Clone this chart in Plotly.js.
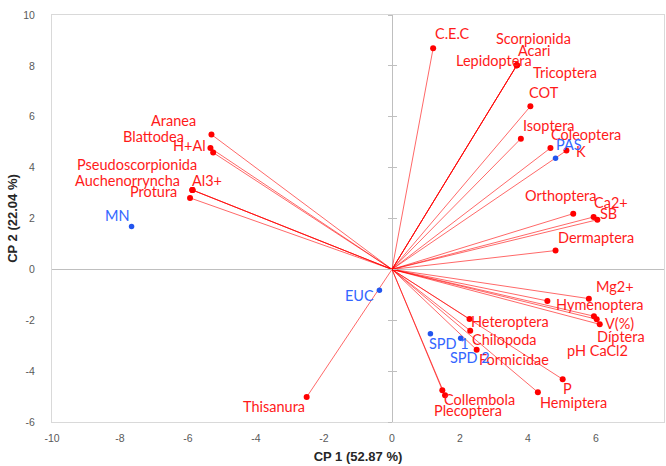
<!DOCTYPE html>
<html>
<head>
<meta charset="utf-8">
<script src="https://cdn.plot.ly/plotly-3.0.1.min.js"></script>
<style>html,body{margin:0;padding:0;background:#fff;}#chart{width:666px;height:466px;}</style>
</head>
<body>
<div id="chart"></div>
<script>
// Variable loadings (red vectors)
var varNames = ['C.E.C','Scorpionida','Acari','Lepidoptera','Tricoptera','COT','Isoptera','Coleoptera','K','Orthoptera','Ca2+','SB','Dermaptera','Mg2+','Hymenoptera','V(%)','Díptera','pH CaCl2','Heteroptera','Chilopoda','Formicidae','P','Hemiptera','Collembola','Plecoptera','Thisanura','Aranea','Blattodea','H+Al','Pseudoscorpionida','Auchenorryncha','Al3+','Protura'];
var varX = [1.21,3.67,3.67,3.67,3.67,4.07,3.79,4.66,5.13,5.33,5.93,6.04,4.81,5.79,4.57,5.94,6.02,6.11,2.28,2.30,2.49,5.02,4.29,1.48,1.56,-2.51,-5.31,-5.34,-5.26,-5.87,-5.87,-5.87,-5.94];
var varY = [8.69,8.02,8.02,8.02,8.02,6.41,5.14,4.77,4.67,2.19,2.06,1.95,0.74,-1.15,-1.24,-1.84,-1.96,-2.16,-1.95,-2.41,-3.16,-4.32,-4.83,-4.75,-4.95,-5.02,5.30,4.77,4.59,3.12,3.12,3.12,2.81];

// Observation scores (blue points)
var obsNames = ['MN','PAS','EUC','SPD 1','SPD 2'];
var obsX = [-7.66,4.81,-0.37,1.13,2.02];
var obsY = [1.69,4.37,-0.82,-2.53,-2.71];

// Axis ticks
var xTicks = [-10,-8,-6,-4,-2,0,2,4,6,8];
var yTicks = [-6,-4,-2,0,2,4,6,8,10];

// Label placement offsets in pixels [dx, dy(down)] — layout only
var varLabelOffsets = [[19,-15],[17,-27],[18,-15],[-23,-5],[48,7],[14,-14],[28,-13],[36,-14],[15,1],[-13,-18],[17,-14],[11,-6],[40,-13],[26,-12],[53,4],[26,7],[24,17],[-2,26],[40,3],[34,9],[37,10],[5,9],[36,10],[37,9],[23,15],[-33,9],[-38,-14],[-57,-12],[-24,-7],[-55,-26],[-65,-10],[15,-10],[-37,-6]];
var obsLabelOffsets = [[-14,-11],[13,-14],[-20,5],[19,10],[9,19]];

var RED = '#FF0000';
var BLUE = '#2255EE';
var labelFont = 'Lato, "Liberation Sans", Arial, sans-serif';

// Build vector segments from origin
var lx = [], ly = [];
for (var i = 0; i < varX.length; i++) {
  lx.push(0, varX[i], null);
  ly.push(0, varY[i], null);
}

var traces = [
  {x: lx, y: ly, mode: 'lines', type: 'scatter', line: {color: 'rgba(255,0,0,0.85)', width: 0.7}, hoverinfo: 'skip', showlegend: false},
  {x: varX, y: varY, mode: 'markers', type: 'scatter', marker: {color: RED, size: 6}, text: varNames, showlegend: false},
  {x: obsX, y: obsY, mode: 'markers', type: 'scatter', marker: {color: BLUE, size: 5.5}, text: obsNames, showlegend: false},
  {x: [null], y: [null], xaxis: 'x', yaxis: 'y2', type: 'scatter', mode: 'markers', showlegend: false, hoverinfo: 'skip'},
  {x: [null], y: [null], xaxis: 'x', yaxis: 'y3', type: 'scatter', mode: 'markers', showlegend: false, hoverinfo: 'skip'}
];

var annotations = [];
for (var j = 0; j < varNames.length; j++) {
  annotations.push({x: varX[j], y: varY[j], xref: 'x', yref: 'y', text: varNames[j], showarrow: false,
    xshift: varLabelOffsets[j][0], yshift: -varLabelOffsets[j][1], font: {family: labelFont, size: 14.5, color: '#FF1A1A'}});
}
for (var k = 0; k < obsNames.length; k++) {
  annotations.push({x: obsX[k], y: obsY[k], xref: 'x', yref: 'y', text: obsNames[k], showarrow: false,
    xshift: obsLabelOffsets[k][0], yshift: -obsLabelOffsets[k][1], font: {family: labelFont, size: 14.5, color: '#3366FF'}});
}

var tickFont = {family: '"Liberation Sans", Arial, sans-serif', size: 10.5, color: '#595959'};
var titleFont = {family: '"Liberation Sans", Arial, sans-serif', size: 13, color: '#262626', weight: 'bold'};
var x0pos = (0 - (-10)) / 18;

var layout = {
  width: 666, height: 466,
  margin: {l: 52, r: 2, t: 15, b: 44},
  paper_bgcolor: '#ffffff', plot_bgcolor: '#ffffff',
  showlegend: false,
  xaxis: {
    range: [-10, 8], tickvals: xTicks, ticktext: xTicks.map(String),
    showgrid: false, showline: true, mirror: true, linecolor: '#D9D9D9', linewidth: 1,
    zeroline: true, zerolinecolor: '#BFBFBF', zerolinewidth: 1,
    ticks: '', tickfont: tickFont, ticklabelstandoff: 6,
    title: {text: '<b>CP 1 (52.87 %)</b>', font: titleFont, standoff: 9}
  },
  yaxis: {
    range: [-6, 10], tickvals: yTicks, ticktext: yTicks.map(String),
    showgrid: false, showline: true, mirror: true, linecolor: '#D9D9D9', linewidth: 1,
    zeroline: true, zerolinecolor: '#BFBFBF', zerolinewidth: 1,
    ticks: '', tickfont: tickFont, ticklabelstandoff: 14,
    title: {text: '<b>CP 2 (22.04 %)</b>', font: titleFont, standoff: 2}
  },
  yaxis2: {
    overlaying: 'y', anchor: 'free', position: x0pos, range: [-6, 10], tickvals: yTicks,
    showticklabels: false, showgrid: false, zeroline: false, showline: false,
    ticks: 'outside', ticklen: 4, tickcolor: '#BFBFBF', tickwidth: 1
  },
  yaxis3: {
    overlaying: 'y', anchor: 'free', position: x0pos, range: [-6, 10], tickvals: yTicks,
    showticklabels: false, showgrid: false, zeroline: false, showline: false,
    ticks: 'inside', ticklen: 4, tickcolor: '#BFBFBF', tickwidth: 1
  },
  annotations: annotations
};

Plotly.newPlot('chart', traces, layout, {displayModeBar: false, staticPlot: true});
</script>
</body>
</html>
